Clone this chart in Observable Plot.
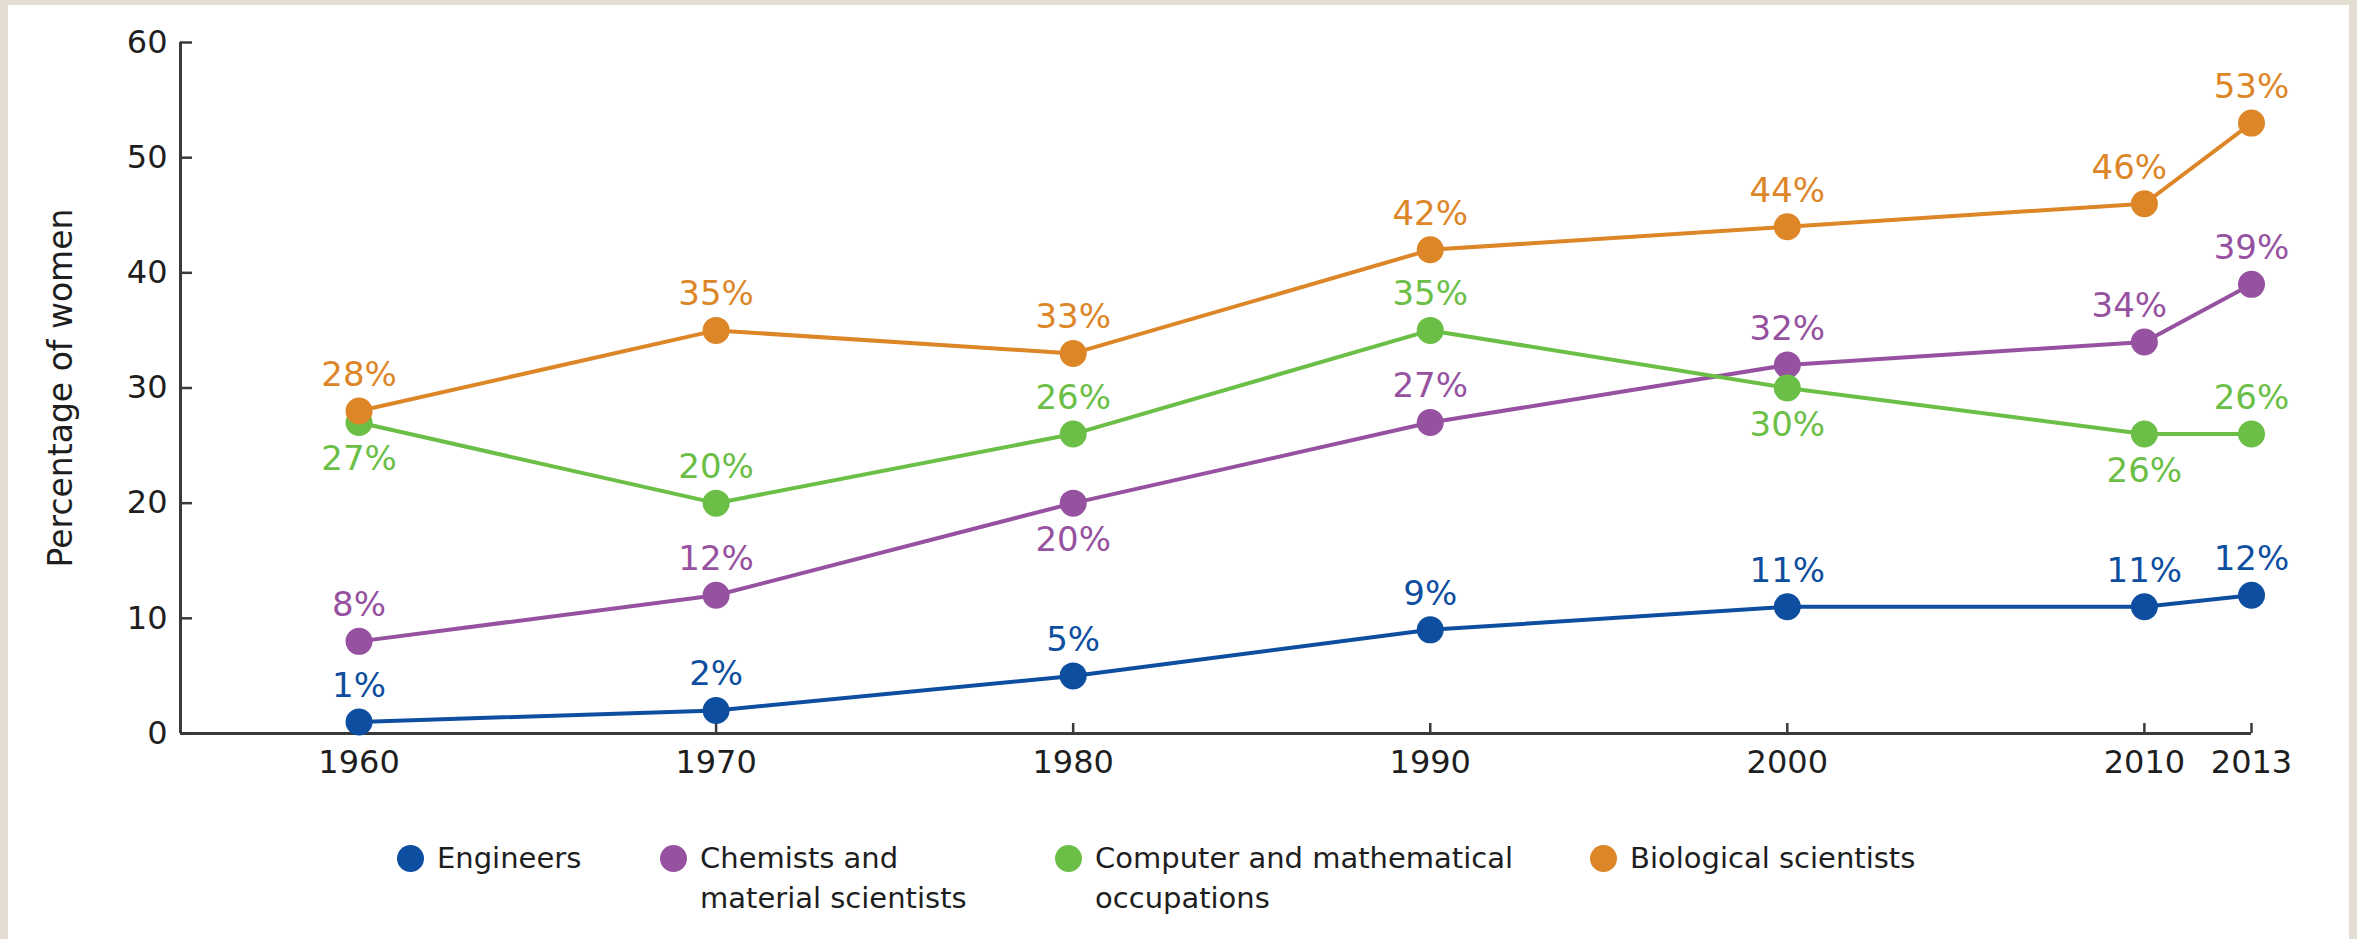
<!DOCTYPE html>
<html>
<head>
<meta charset="utf-8">
<script src="https://cdn.jsdelivr.net/npm/d3@7"></script>
<script src="https://cdn.jsdelivr.net/npm/@observablehq/plot@0.6"></script>
<style>
  html, body { margin: 0; padding: 0; background: #e4ddd1; width: 2357px; height: 939px; overflow: hidden; }
  #panel { position: absolute; left: 8px; top: 5px; width: 2341px; height: 934px; background: #ffffff; }
  #chart { position: absolute; left: 0; top: 0; }
  #chart g[aria-label="y-axis label"] text { font-size: 33px; }
  .legend-item { position: absolute; top: 833px; display: flex; align-items: flex-start;
    font-family: 'DejaVu Sans', sans-serif; font-size: 29px; line-height: 40px; color: #1e1e1e; }
  .legend-dot { flex: none; width: 27px; height: 27px; border-radius: 50%; margin-top: 6.5px; margin-right: 13px; }
</style>
</head>
<body>
<div id="panel">
  <div id="chart"></div>
  <div id="legend"></div>
</div>
<script>
// ---- data ----
const years = [1960, 1970, 1980, 1990, 2000, 2010, 2013];
const seriesNames = ["Engineers", "Chemists and material scientists", "Computer and mathematical occupations", "Biological scientists"];
const seriesColors = ["#0e4ea0", "#9652a0", "#6bbe46", "#dd8628"];
const engineers  = [1, 2, 5, 9, 11, 11, 12];
const chemists   = [8, 12, 20, 27, 32, 34, 39];
const computer   = [27, 20, 26, 35, 30, 26, 26];
const biological = [28, 35, 33, 42, 44, 46, 53];
// where each value label sits relative to its point
const engineersLabelSide  = ["above", "above", "above", "above", "above", "above", "above"];
const chemistsLabelSide   = ["above", "above", "below", "above", "above", "aboveLeft", "above"];
const computerLabelSide   = ["below", "above", "above", "above", "below", "below", "above"];
const biologicalLabelSide = ["above", "above", "above", "above", "above", "aboveLeft", "above"];
const yTicks = [0, 10, 20, 30, 40, 50, 60];
const xTicks = [1960, 1970, 1980, 1990, 2000, 2010, 2013];
const xDomain = [1955, 2013];
const yDomain = [0, 60];
const yLabel = "Percentage of women";

// ---- build table ----
const seriesValues = [engineers, chemists, computer, biological];
const seriesSides = [engineersLabelSide, chemistsLabelSide, computerLabelSide, biologicalLabelSide];
const rows = [];
seriesNames.forEach((name, i) => {
  years.forEach((year, j) => {
    rows.push({series: name, year, value: seriesValues[i][j], side: seriesSides[i][j]});
  });
});

const axisColor = "#3a3a3a";
const font = "'DejaVu Sans', sans-serif";
const labelOpts = {x: "year", y: "value", text: d => d.value + "%", fill: "series", fontSize: 34, lineAnchor: "middle"};

const chart = Plot.plot({
  width: 2341,
  height: 800,
  marginLeft: 172,
  marginRight: 98,
  marginTop: 37,
  marginBottom: 72,
  style: {fontFamily: font, background: "transparent", color: "#1e1e1e", overflow: "visible"},
  x: {domain: xDomain},
  y: {domain: yDomain},
  color: {domain: seriesNames, range: seriesColors},
  marks: [
    Plot.ruleX([xDomain[0]], {y1: yDomain[0], y2: yDomain[1], stroke: axisColor, strokeWidth: 3}),
    Plot.ruleY([yDomain[0]], {x1: xDomain[0], x2: xDomain[1], stroke: axisColor, strokeWidth: 3}),
    Plot.axisY(yTicks, {tickSize: -12, tickPadding: 25, strokeWidth: 2.5, color: axisColor, fill: "#1e1e1e",
      fontSize: 32, label: yLabel, labelAnchor: "center", labelOffset: 132, labelArrow: false}),
    Plot.axisX(xTicks, {tickSize: -10, tickPadding: 27, strokeWidth: 2.5, color: axisColor, fill: "#1e1e1e",
      fontSize: 32, tickFormat: d => String(d), label: null}),
    Plot.line(rows, {x: "year", y: "value", z: "series", stroke: "series", strokeWidth: 4}),
    Plot.dot(rows, {x: "year", y: "value", fill: "series", r: 13.5}),
    Plot.text(rows.filter(d => d.side === "above"), {...labelOpts, dy: -36}),
    Plot.text(rows.filter(d => d.side === "aboveLeft"), {...labelOpts, dy: -36, dx: -15}),
    Plot.text(rows.filter(d => d.side === "below"), {...labelOpts, dy: 37})
  ]
});
document.getElementById("chart").appendChild(chart);

// ---- legend ----
const legendLeft = [389, 652, 1047, 1582];
const legendMaxWidth = [400, 290, 450, 420];
const legend = document.getElementById("legend");
seriesNames.forEach((name, i) => {
  const item = document.createElement("div");
  item.className = "legend-item";
  item.style.left = legendLeft[i] + "px";
  const dot = document.createElement("span");
  dot.className = "legend-dot";
  dot.style.background = seriesColors[i];
  const label = document.createElement("span");
  label.textContent = name;
  label.style.maxWidth = legendMaxWidth[i] + "px";
  item.appendChild(dot);
  item.appendChild(label);
  legend.appendChild(item);
});
</script>
</body>
</html>
